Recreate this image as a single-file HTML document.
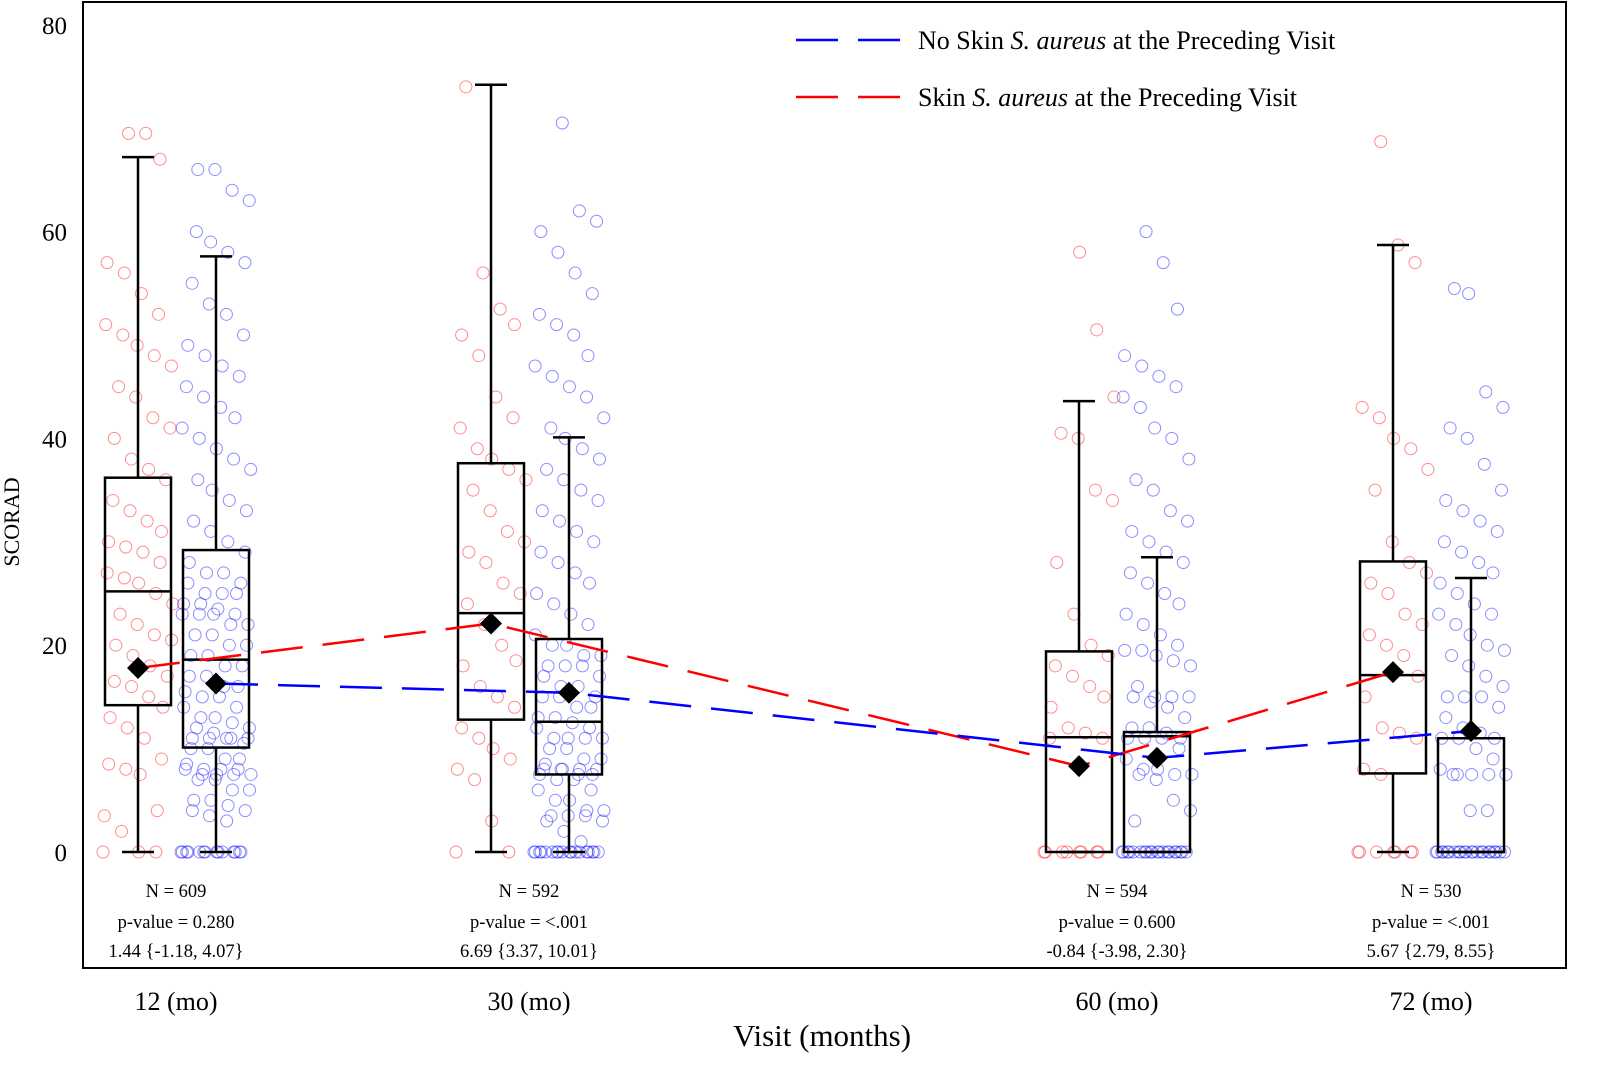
<!DOCTYPE html>
<html><head><meta charset="utf-8"><style>
body{margin:0;background:#fff}
svg{display:block;font-family:"Liberation Serif",serif}
</style></head><body>
<svg id="chart" width="1597" height="1072" xmlns="http://www.w3.org/2000/svg">
<rect x="83" y="2" width="1483" height="966" fill="none" stroke="#000" stroke-width="2"/>
<g id="yticks"></g><g id="pts"></g><g id="boxes"></g><g id="lines"></g><g id="means"></g><g id="ann"></g>
<text transform="translate(19,522) rotate(-90)" text-anchor="middle" font-size="22">SCORAD</text>
<text x="822" y="1046" text-anchor="middle" font-size="31">Visit (months)</text>
<g>
<line x1="796" y1="40" x2="902" y2="40" stroke="#00f" stroke-width="2.5" stroke-dasharray="42 20"/>
<text x="918" y="49" font-size="26">No Skin <tspan font-style="italic">S. aureus</tspan> at the Preceding Visit</text>
<line x1="796" y1="97" x2="902" y2="97" stroke="#f00" stroke-width="2.5" stroke-dasharray="42 20"/>
<text x="918" y="106" font-size="26">Skin <tspan font-style="italic">S. aureus</tspan> at the Preceding Visit</text>
</g>
</svg>
<script>
const visits=["12 (mo)","30 (mo)","60 (mo)","72 (mo)"];
const visitX=[176,529,1117,1431];
const yTicks=[0,20,40,60,80];
const nLabels=["N = 609","N = 592","N = 594","N = 530"];
const pLabels=["p-value = 0.280","p-value = <.001","p-value = 0.600","p-value = <.001"];
const ciLabels=["1.44 {-1.18, 4.07}","6.69 {3.37, 10.01}","-0.84 {-3.98, 2.30}","5.67 {2.79, 8.55}"];
// box stats per visit: [whiskerLow, q1, median, q3, whiskerHigh]
const redBox=[[0,14.2,25.2,36.2,67.2],[0,12.8,23.1,37.6,74.2],[0,0,11.1,19.4,43.6],[0,7.6,17.1,28.1,58.7]];
const blueBox=[[0,10.1,18.6,29.2,57.6],[0,7.5,12.6,20.6,40.1],[0,0,11.2,11.6,28.5],[0,0,0,11.0,26.5]];
const redMean=[17.8,22.1,8.3,17.4];
const blueMean=[16.3,15.4,9.1,11.7];
const z=n=>Array(n).fill(0);
const redPts=[
[0,0,0,2,3.5,4,7.5,8,8.5,9,11,12,13,14,15,16,16.5,17,18,19,20,20.5,21,22,23,24,25,26,26.5,27,28,29,29.5,30,31,32,33,34,36,37,38,40,41,42,44,45,47,48,49,50,51,52,54,56,57,67,69.5,69.5],
[0,0,3,7,8,9,10,11,12,14,15,16,18,18.5,20,22,24,25,26,28,29,30,31,33,35,36,37,38,39,41,42,44,48,50,51,52.5,56,74],
[...z(8),11,11,11.5,12,14,15,16,17,18,19,20,23,28,34,35,40,40.5,44,50.5,58],
[...z(7),7.5,8,11,11.5,12,15,17,19,20,21,22,23,25,26,27,28,30,35,37,39,40,42,43,57,58.7,68.7]];
const bluePts=[
[...z(14),3,3.5,4,4,4.5,5,5,6,6,7,7,7.5,7.5,7.5,7.5,8,8,8,8,8.5,9,9,10,10,10.5,11,11,11,11,11,11.5,12,12,12.5,13,13,14,14,15,15,15.5,16,16,17,17,18,18,19,19,20,20,21,21,22,22,23,23,23,23,23.5,24,24,25,25,25,26,26,27,27,28,29,30,31,32,33,34,35,36,37,38,39,40,41,42,43,44,45,46,47,48,49,50,52,53,55,57,58,59,60,63,64,66,66],
[...z(18),1,2,3,3,3.5,3.5,3.5,4,4,5,5,6,6,7,7,7.5,7.5,7.5,8,8,8,8,8,8.5,9,9,10,10,11,11,11,11,12,12,12.5,13,13,14,14,15,15,15,16,16,17,17,18,18,18,19,19,20,20,21,22,23,24,25,26,27,28,29,30,31,32,33,34,35,36,37,38,39,40,41,42,44,45,46,47,48,50,51,52,54,56,58,60,61,62,70.5],
[...z(20),3,4,5,7,7.5,7.5,7.5,8,8,9,10,11,11,11,11,11.5,12,12,13,14,14.5,15,15,15,15,16,18,18.5,19,19.5,19.5,20,21,22,23,24,25,26,27,28,29,30,31,32,33,35,36,38,40,41,43,44,45,46,47,48,52.5,57,60],
[...z(22),4,4,7.5,7.5,7.5,7.5,7.5,8,9,10,11,11,11,11.5,12,13,14,15,15,15,16,17,18,19,19.5,20,21,22,23,23,24,25,26,27,28,29,30,31,32,33,34,35,37.5,40,41,43,44.5,54,54.5]];

const NS="http://www.w3.org/2000/svg";
const Y=v=>852-v*10.34;
const RED_OFF=-38, BLUE_OFF=40, BW=66;
function mk(tag,attrs,parent,text){const e=document.createElementNS(NS,tag);for(const k in attrs)e.setAttribute(k,attrs[k]);if(text!==undefined)e.textContent=text;document.getElementById(parent).appendChild(e);return e;}

yTicks.forEach(t=>{
  const e=mk("text",{x:67,y:Y(t)+9,"text-anchor":"end","font-size":"25"},"yticks",String(t));
  
  
});
visits.forEach((v,i)=>{
  const cx=visitX[i];
  const e=mk("text",{x:cx,y:1010,"text-anchor":"middle","font-size":"26"},"ann",v);
  
  
  [[nLabels[i],897],[pLabels[i],928],[ciLabels[i],957]].forEach(([s,y])=>{
    const a=mk("text",{x:cx,y:y,"text-anchor":"middle","font-size":"18.5"},"ann",s);
    
    
  });
});
function jit(i){return (((i*0.6180339+0.137*(i%7))%1)-0.5)*70;}
function drawPts(arr,off,col){
  arr.forEach((vals,gi)=>{
    vals.forEach((v,i)=>{
      const c=mk("circle",{cx:visitX[gi]+off+jit(i),cy:Y(v),r:6,fill:"none",stroke:col,"stroke-width":1,"stroke-opacity":0.45},"pts");
      
      
    });
  });
}
drawPts(redPts,RED_OFF,"#f00");
drawPts(bluePts,BLUE_OFF,"#00f");
function drawBox(stats,off,name){
  stats.forEach((s,i)=>{
    const cx=visitX[i]+off;
    const g=mk("g",{stroke:"#000","stroke-width":2.5,fill:"none"},"boxes");
    
    
    const add=(t,a)=>{const e=document.createElementNS(NS,t);for(const k in a)e.setAttribute(k,a[k]);g.appendChild(e);};
    add("line",{x1:cx,x2:cx,y1:Y(s[0]),y2:Y(s[1])});
    add("line",{x1:cx,x2:cx,y1:Y(s[3]),y2:Y(s[4])});
    add("line",{x1:cx-16,x2:cx+16,y1:Y(s[0]),y2:Y(s[0])});
    add("line",{x1:cx-16,x2:cx+16,y1:Y(s[4]),y2:Y(s[4])});
    add("rect",{x:cx-BW/2,y:Y(s[3]),width:BW,height:Math.max(Y(s[1])-Y(s[3]),0.5)});
    add("line",{x1:cx-BW/2,x2:cx+BW/2,y1:Y(s[2]),y2:Y(s[2])});
  });
}
drawBox(redBox,RED_OFF,"red-box");
drawBox(blueBox,BLUE_OFF,"blue-box");
function drawLine(means,off,col,name){
  const p=mk("polyline",{points:means.map((m,i)=>(visitX[i]+off)+","+Y(m)).join(" "),fill:"none",stroke:col,"stroke-width":2.5,"stroke-dasharray":"42 20"},"lines");
  
  
  means.forEach((m,i)=>{
    const x=visitX[i]+off,y=Y(m);
    const d=mk("polygon",{points:`${x},${y-11} ${x+11},${y} ${x},${y+11} ${x-11},${y}`,fill:"#000"},"means");
    
    
  });
}
drawLine(redMean,RED_OFF,"#f00","red-mean-line");
drawLine(blueMean,BLUE_OFF,"#00f","blue-mean-line");
</script>
</body></html>
